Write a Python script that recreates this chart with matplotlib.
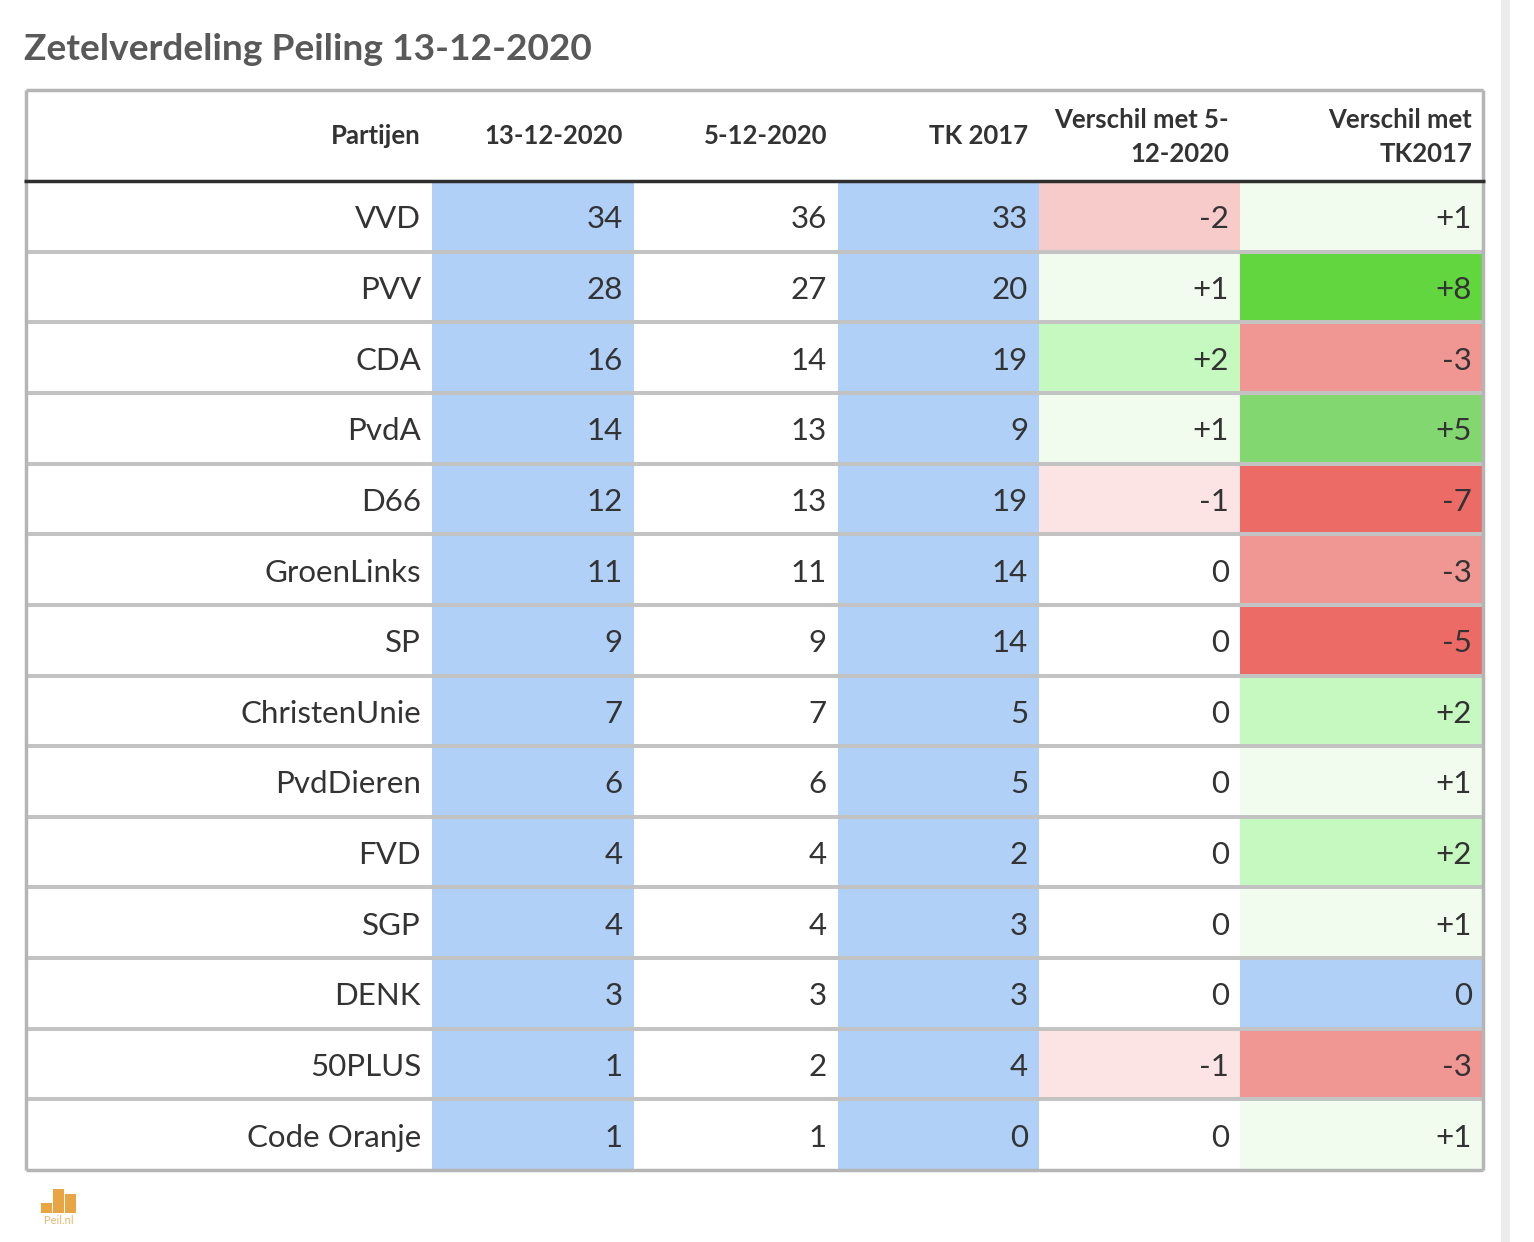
import numpy as np
import matplotlib
matplotlib.use("Agg")
from matplotlib import pyplot as plt
from matplotlib.patches import Rectangle

plt.rcParams["font.family"] = ["Lato", "DejaVu Sans"]

title = "Zetelverdeling Peiling 13-12-2020"
headers = ["Partijen", "13-12-2020", "5-12-2020", "TK 2017",
           "Verschil met 5-\n12-2020", "Verschil met\nTK2017"]
parties = ["VVD", "PVV", "CDA", "PvdA", "D66", "GroenLinks", "SP",
           "ChristenUnie", "PvdDieren", "FVD", "SGP", "DENK", "50PLUS",
           "Code Oranje"]
seats_now = [34, 28, 16, 14, 12, 11, 9, 7, 6, 4, 4, 3, 1, 1]
seats_prev = [36, 27, 14, 13, 13, 11, 9, 7, 6, 4, 4, 3, 2, 1]
seats_tk2017 = [33, 20, 19, 9, 19, 14, 14, 5, 5, 2, 3, 3, 4, 0]
diff_prev = [-2, 1, 2, 1, -1, 0, 0, 0, 0, 0, 0, 0, -1, 0]
diff_tk = [1, 8, -3, 5, -7, -3, -5, 2, 1, 2, 1, 0, -3, 1]

BLUE = "#b0d0f8"
diff_colors = {-7: "#ec6b67", -5: "#ec6b67", -3: "#f09794", -2: "#f6cbca",
               -1: "#fbe4e3", 1: "#f1fcef", 2: "#c5f9c0", 5: "#83d771",
               8: "#62d63e"}


def diff_color(v, zero):
    return zero if v == 0 else diff_colors[v]


def fmt(v):
    return f"+{v}" if v > 0 else str(v)


W, H = 1534, 1242
fig = plt.figure(figsize=(W / 100, H / 100), dpi=100)
ax = fig.add_axes([0, 0, 1, 1])
ax.set_xlim(0, W)
ax.set_ylim(H, 0)
ax.axis("off")

# layout (pixels)
col_edges = [26, 432, 634, 838, 1039, 1240, 1483]
head_top, head_bot = 90, 181
n = len(parties)
row_h = (1170 - head_bot) / n
rows = np.arange(n)
centers = head_bot + row_h * (rows + 0.5)
txt = "#333333"

# scrollbar strip on right
ax.add_patch(Rectangle((1501, 0), 9, H, color="#ececec", lw=0))

# coloured columns
fills = [
    [BLUE] * n,
    ["white"] * n,
    [BLUE] * n,
    [diff_color(v, "white") for v in diff_prev],
    [diff_color(v, BLUE) for v in diff_tk],
]
for c, colors in enumerate(fills, start=1):
    left, right = col_edges[c], col_edges[c + 1]
    ax.barh(centers, right - left, left=left, height=row_h, color=colors,
            lw=0)

# cell text
columns = [parties,
           [str(v) for v in seats_now],
           [str(v) for v in seats_prev],
           [str(v) for v in seats_tk2017],
           [fmt(v) for v in diff_prev],
           [fmt(v) for v in diff_tk]]
for c, values in enumerate(columns):
    xr = col_edges[c + 1] - 11
    for y, s in zip(centers, values):
        ax.text(xr, y + 3, s, ha="right", va="center", fontsize=22.5,
                color=txt)

# header
for c, h in enumerate(headers):
    xr = col_edges[c + 1] - 11
    ax.text(xr, (head_top + head_bot) / 2 + 1, h, ha="right", va="center",
            fontsize=18.5, fontweight="bold", color=txt, linespacing=1.5)

# row separators and borders
for k in range(1, n):
    yb = head_bot + row_h * k
    ax.plot([col_edges[0], col_edges[-1]], [yb, yb], color="#c3c3c3",
            lw=2.9, solid_capstyle="butt")
ax.plot([col_edges[0], col_edges[-1]], [head_top, head_top],
        color="#b5b5b5", lw=2.5, solid_capstyle="butt")
ax.plot([col_edges[0], col_edges[-1]], [1170, 1170], color="#b5b5b5",
        lw=2.5, solid_capstyle="butt")
for xb in (col_edges[0], col_edges[-1]):
    ax.plot([xb, xb], [head_top, 1170], color="#b5b5b5", lw=2.5,
            solid_capstyle="butt")
ax.plot([24, 1485], [head_bot, head_bot], color="#2e2e2e", lw=2.5,
        solid_capstyle="butt")

# title
ax.text(24, 49, title, ha="left", va="center", fontsize=26.7,
        fontweight="bold", color="#595959")

# logo
logo = "#e9a443"
for x0, top in [(41, 1203), (53, 1189), (65, 1194)]:
    ax.add_patch(Rectangle((x0, top), 11, 1213 - top, color=logo, lw=0))
ax.text(59, 1221, "Peil.nl", ha="center", va="center", fontsize=8,
        color=logo, alpha=0.8)

fig.savefig("out.png", dpi=100)
